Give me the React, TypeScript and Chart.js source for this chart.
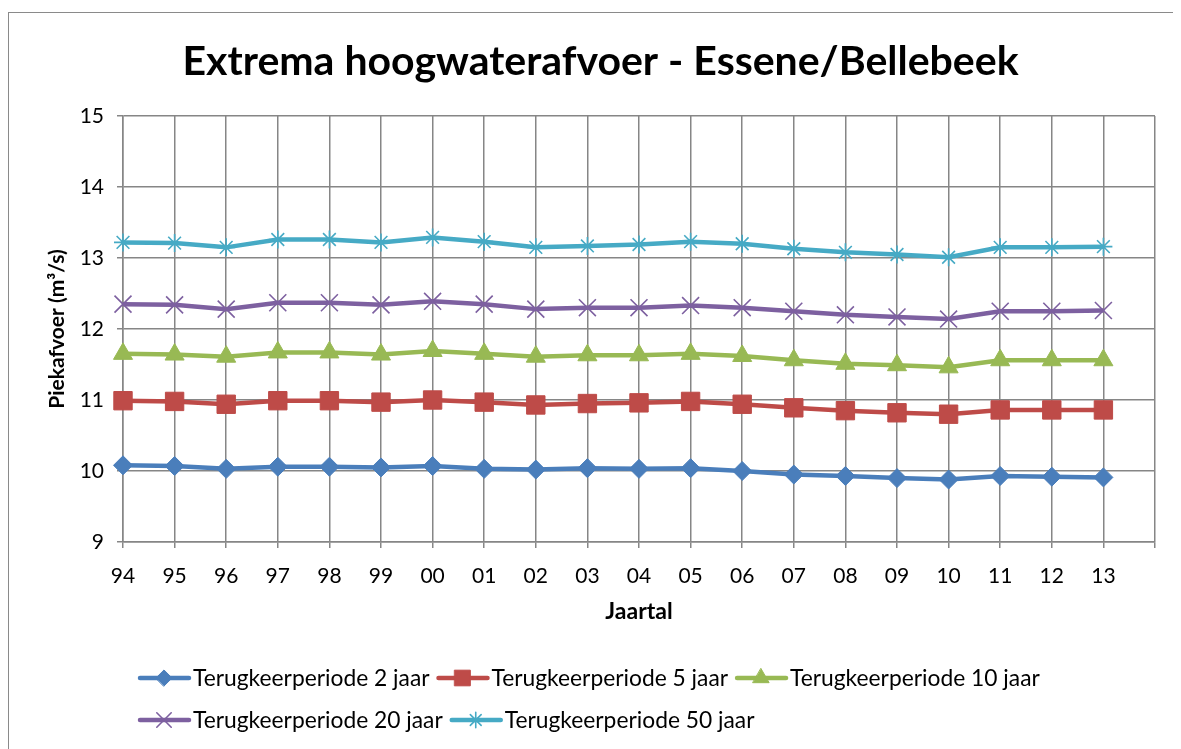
import React, { useEffect, useRef } from 'react';
import { Chart, registerables } from 'chart.js';
import { drawPoint } from 'chart.js/helpers';

Chart.register(...registerables);

const titleText = 'Extrema hoogwaterafvoer - Essene/Bellebeek';
const xTitle = 'Jaartal';
const yTitle = 'Piekafvoer (m³/s)';

const categories = ['94', '95', '96', '97', '98', '99', '00', '01', '02', '03', '04', '05', '06', '07', '08', '09', '10', '11', '12', '13'];
const axisLabels = [...categories, ''];

const yMin = 9;
const yMax = 15;
const yStep = 1;

const labels2 = 'Terugkeerperiode 2 jaar';
const labels5 = 'Terugkeerperiode 5 jaar';
const labels10 = 'Terugkeerperiode 10 jaar';
const labels20 = 'Terugkeerperiode 20 jaar';
const labels50 = 'Terugkeerperiode 50 jaar';

const series2 = [10.08, 10.07, 10.03, 10.06, 10.06, 10.05, 10.07, 10.03, 10.02, 10.04, 10.03, 10.04, 10.0, 9.95, 9.93, 9.9, 9.88, 9.93, 9.92, 9.91];
const series5 = [10.99, 10.98, 10.94, 10.99, 10.99, 10.97, 11.0, 10.97, 10.93, 10.95, 10.96, 10.98, 10.94, 10.89, 10.85, 10.82, 10.8, 10.86, 10.86, 10.86];
const series10 = [11.65, 11.64, 11.61, 11.67, 11.67, 11.64, 11.69, 11.65, 11.61, 11.63, 11.63, 11.65, 11.62, 11.56, 11.51, 11.49, 11.46, 11.56, 11.56, 11.56];
const series20 = [12.35, 12.34, 12.28, 12.37, 12.37, 12.34, 12.39, 12.35, 12.28, 12.3, 12.3, 12.33, 12.3, 12.25, 12.2, 12.17, 12.14, 12.25, 12.25, 12.26];
const series50 = [13.22, 13.21, 13.15, 13.26, 13.26, 13.22, 13.29, 13.23, 13.15, 13.17, 13.19, 13.23, 13.2, 13.13, 13.08, 13.05, 13.01, 13.15, 13.15, 13.16];

const FONT = 'Lato, "Open Sans", sans-serif';
const GRID = '#868686';

const W = 1180;
const H = 745;

type SeriesStyle = { color: string; style: string; radius: number; bw: number };

const styles: SeriesStyle[] = [
  { color: '#4A7EBB', style: 'rectRot', radius: 9.5, bw: 1 },
  { color: '#BE4B48', style: 'rect', radius: 13, bw: 1 },
  { color: '#98B954', style: 'triangle', radius: 11, bw: 1 },
  { color: '#7D60A0', style: 'crossRot', radius: 12, bw: 1.6 },
  { color: '#46AAC5', style: 'star', radius: 9, bw: 1.6 },
];

const titlePlugin = {
  id: 'customTitle',
  afterDraw(chart: any) {
    const ctx = chart.ctx;
    ctx.save();
    ctx.font = `bold 41px ${FONT}`;
    ctx.fillStyle = '#000';
    ctx.textAlign = 'center';
    ctx.textBaseline = 'middle';
    ctx.fillText(titleText, 591.5, 49);
    ctx.restore();
  },
};

const legendPlugin = {
  id: 'customLegend',
  afterDraw(chart: any) {
    const ctx = chart.ctx;
    const ds = chart.data.datasets;
    const rows = [[0, 1, 2], [3, 4]];
    const rowY = [665, 707];
    ctx.save();
    ctx.font = `22.8px ${FONT}`;
    ctx.textBaseline = 'middle';
    ctx.textAlign = 'left';
    rows.forEach((row, ri) => {
      let x = 129;
      const y = rowY[ri];
      row.forEach((i) => {
        const st = styles[i];
        ctx.strokeStyle = st.color;
        ctx.lineWidth = 4.5;
        ctx.lineCap = 'round';
        ctx.beginPath();
        ctx.moveTo(x + 2, y);
        ctx.lineTo(x + 51, y);
        ctx.stroke();
        ctx.fillStyle = st.color;
        ctx.lineWidth = st.bw;
        drawPoint(ctx, { pointStyle: st.style, radius: st.radius * 0.85, borderWidth: st.bw, rotation: 0 } as any, x + 26, y);
        ctx.fillStyle = '#000';
        const label = ds[i].label as string;
        ctx.fillText(label, x + 55, y + 1);
        x += 55 + ctx.measureText(label).width + 7;
      });
    });
    ctx.restore();
  },
};

export default function App() {
  const ref = useRef<HTMLCanvasElement | null>(null);

  useEffect(() => {
    if (!ref.current) return;
    const allSeries = [series2, series5, series10, series20, series50];
    const allLabels = [labels2, labels5, labels10, labels20, labels50];
    const chart = new Chart(ref.current, {
      type: 'line',
      data: {
        labels: axisLabels,
        datasets: allSeries.map((s, i) => ({
          label: allLabels[i],
          data: s,
          borderColor: styles[i].color,
          backgroundColor: styles[i].color,
          borderWidth: 4.5,
          pointStyle: styles[i].style as any,
          pointRadius: styles[i].radius,
          pointHoverRadius: styles[i].radius,
          pointBorderWidth: styles[i].bw,
          pointBorderColor: styles[i].color,
          pointBackgroundColor: styles[i].color,
          tension: 0,
          fill: false,
        })),
      },
      options: {
        responsive: false,
        animation: false,
        devicePixelRatio: 1,
        layout: { padding: { left: 34, right: 34, top: 103, bottom: 133 } },
        plugins: {
          legend: { display: false },
          title: { display: false },
          tooltip: { enabled: false },
        },
        scales: {
          x: {
            type: 'category',
            offset: false,
            grid: { color: GRID, lineWidth: 1.5, tickLength: 6, drawTicks: true },
            border: { color: GRID, width: 1.5 },
            ticks: { color: '#000', font: { family: FONT, size: 21 }, padding: 16, maxRotation: 0, autoSkip: false },
            title: { display: true, text: xTitle, color: '#000', font: { family: FONT, size: 23, weight: 'bold' }, padding: { top: 0, bottom: 0 } },
            afterFit: (s: any) => { s.height = 83; },
          },
          y: {
            min: yMin,
            max: yMax,
            grid: { color: GRID, lineWidth: 1.5, tickLength: 6, drawTicks: true },
            border: { color: GRID, width: 1.5 },
            ticks: { stepSize: yStep, color: '#000', font: { family: FONT, size: 21 }, padding: 13 },
            title: { display: true, text: yTitle, color: '#000', font: { family: FONT, size: 21, weight: 'bold' }, padding: { top: 2, bottom: 0 } },
            afterFit: (s: any) => { s.width = 80; },
          },
        },
      },
      plugins: [titlePlugin, legendPlugin],
    });
    return () => chart.destroy();
  }, []);

  return (
    <div style={{ marginTop: 4, width: W, height: H, border: '1px solid #8a8a8a', background: '#fff', overflow: 'hidden' }}>
      <canvas ref={ref} width={W} height={H} style={{ display: 'block' }} />
    </div>
  );
}
